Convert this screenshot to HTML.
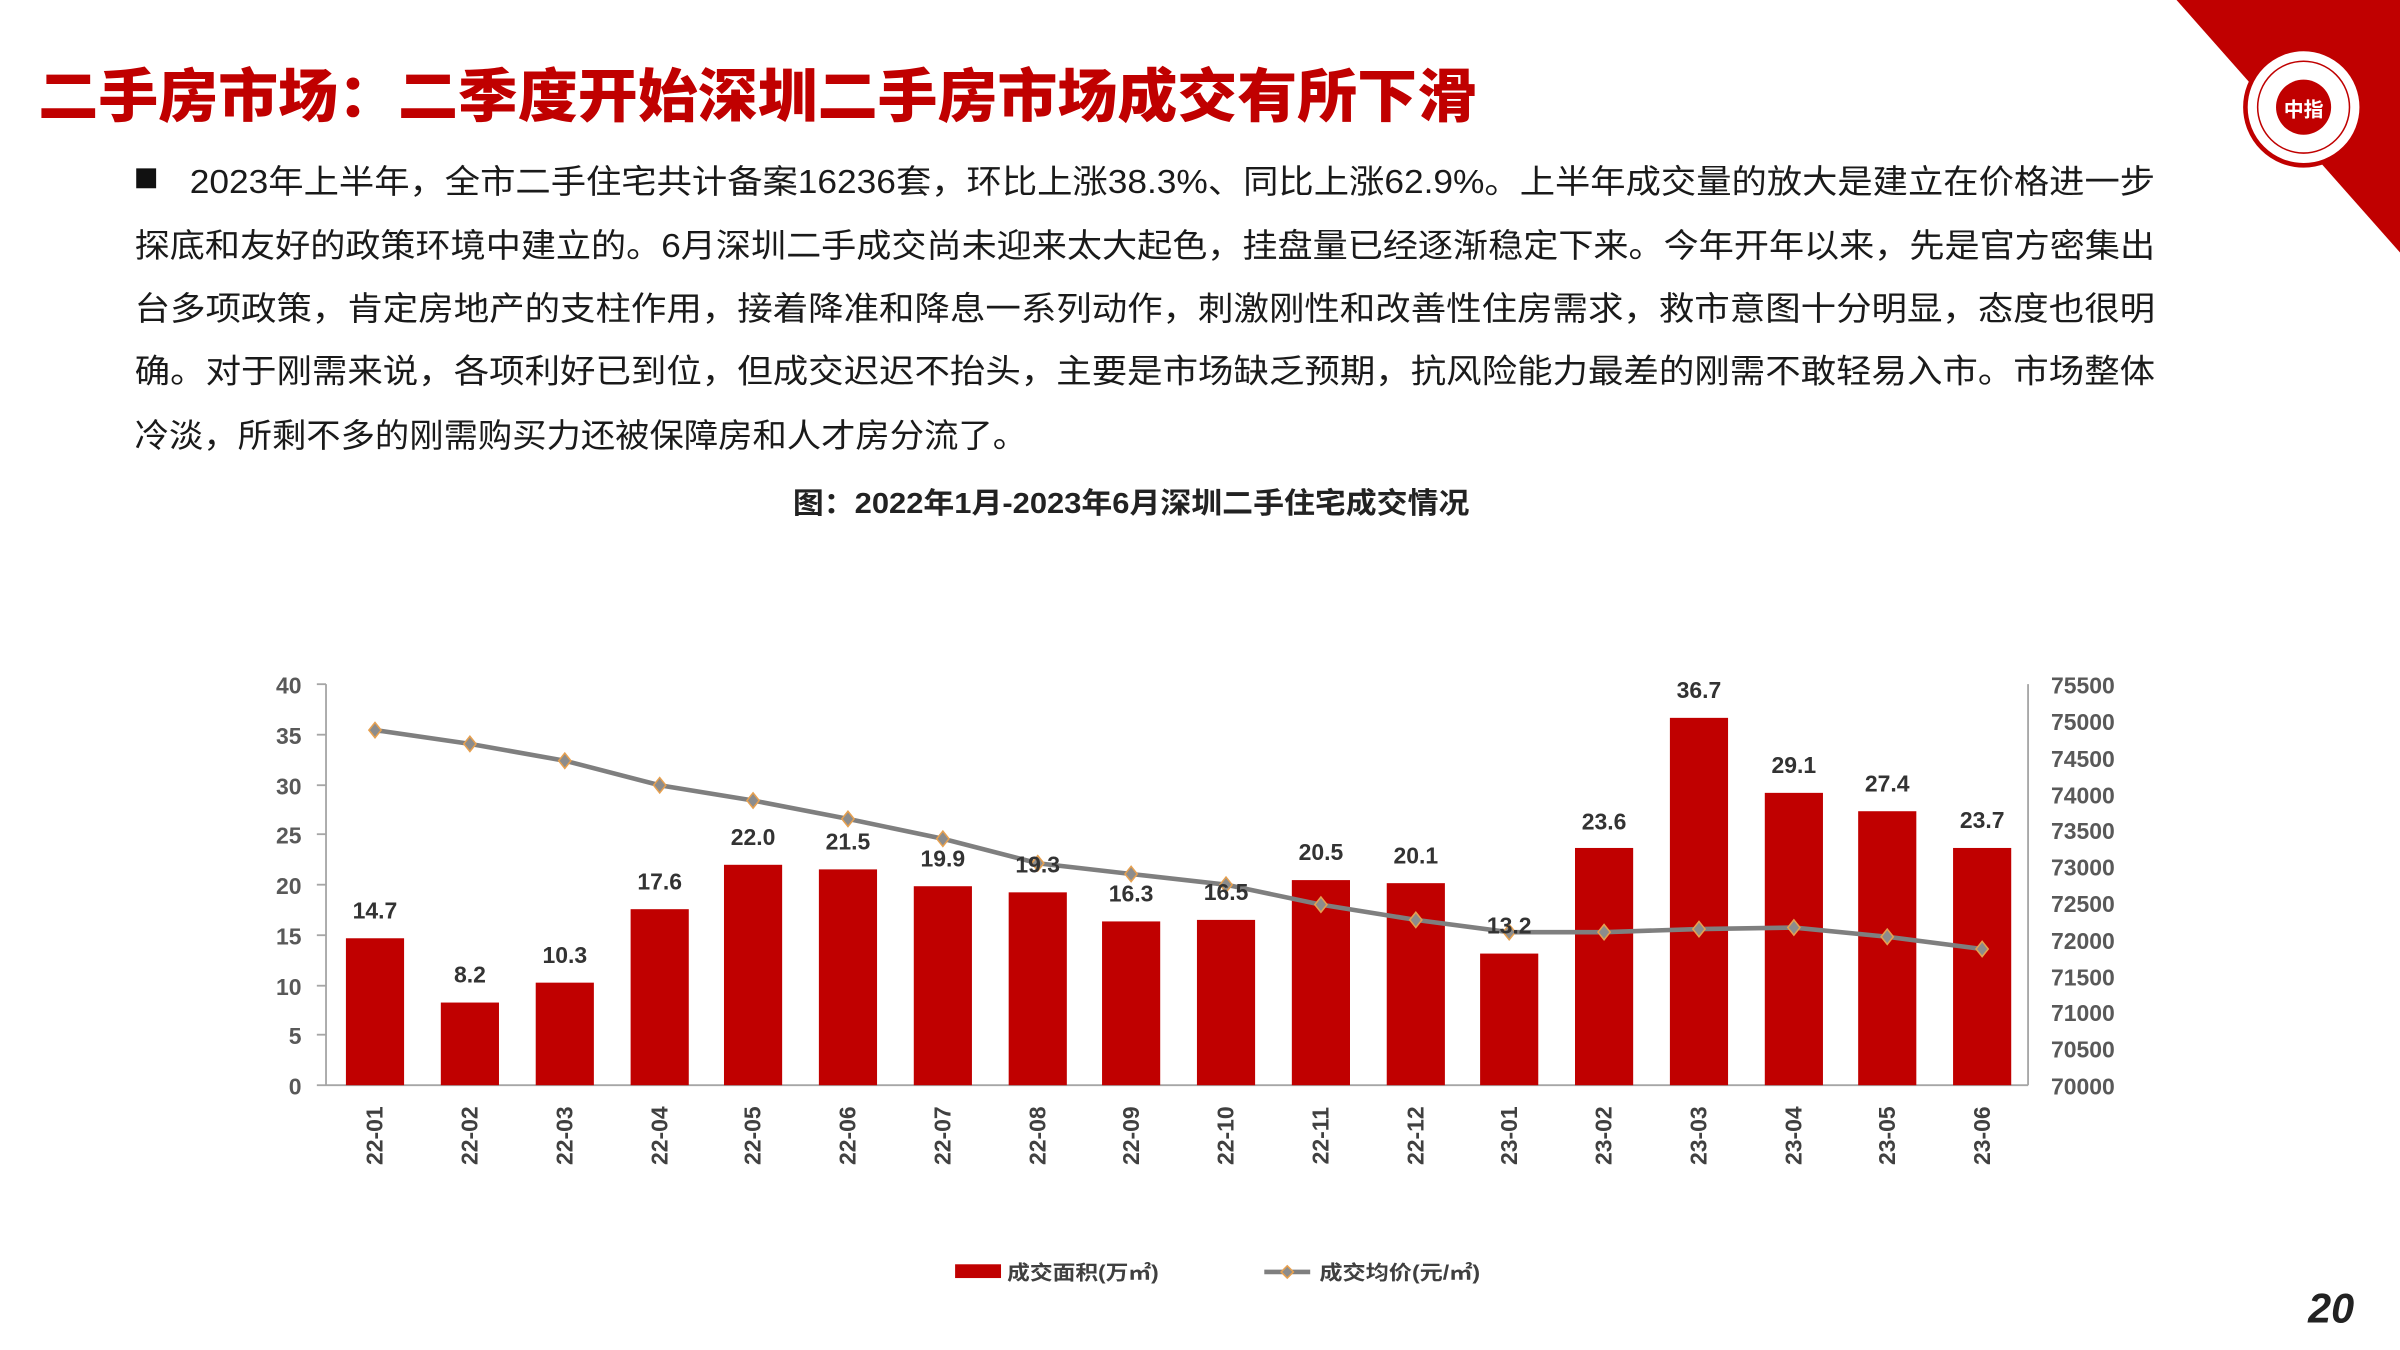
<!DOCTYPE html>
<html><head><meta charset="utf-8"><style>
html,body{margin:0;padding:0;background:#fff;}
svg{display:block;}
text{font-family:"Liberation Sans","Noto Sans CJK SC",sans-serif;}
</style></head><body>
<svg width="2400" height="1350" viewBox="0 0 1568 882" xmlns="http://www.w3.org/2000/svg">
<rect width="1568" height="882" fill="#fff"/>
<polygon points="1422,0 1568,0 1568,165" fill="#c00000"/>
<circle cx="1505" cy="70" r="38" fill="#fff" stroke="#c00000" stroke-width="3"/>
<circle cx="1505" cy="70" r="30" fill="none" stroke="#c00000" stroke-width="1"/>
<circle cx="1505" cy="70" r="18" fill="#c00000"/>
<text x="1505" y="76" font-size="13" fill="#fff" text-anchor="middle" font-weight="bold">中指</text>
<text x="25" y="76" font-size="38" font-weight="900" fill="#c00000" textLength="940" lengthAdjust="spacingAndGlyphs">二手房市场：二季度开始深圳二手房市场成交有所下滑</text>
<g font-size="21.5" fill="#1a1a1a">
<rect x="89" y="110" width="13" height="13" fill="#111"/>
<text x="124" y="126" textLength="1284" lengthAdjust="spacingAndGlyphs">2023年上半年，全市二手住宅共计备案16236套，环比上涨38.3%、同比上涨62.9%。上半年成交量的放大是建立在价格进一步</text>
<text x="88" y="168" textLength="1320" lengthAdjust="spacingAndGlyphs">探底和友好的政策环境中建立的。6月深圳二手成交尚未迎来太大起色，挂盘量已经逐渐稳定下来。今年开年以来，先是官方密集出</text>
<text x="88" y="209" textLength="1320" lengthAdjust="spacingAndGlyphs">台多项政策，肯定房地产的支柱作用，接着降准和降息一系列动作，刺激刚性和改善性住房需求，救市意图十分明显，态度也很明</text>
<text x="88" y="250" textLength="1320" lengthAdjust="spacingAndGlyphs">确。对于刚需来说，各项利好已到位，但成交迟迟不抬头，主要是市场缺乏预期，抗风险能力最差的刚需不敢轻易入市。市场整体</text>
<text x="88" y="292" textLength="583" lengthAdjust="spacingAndGlyphs">冷淡，所剩不多的刚需购买力还被保障房和人才房分流了。</text>
</g>
<text x="518" y="335" font-size="19" font-weight="bold" fill="#222" textLength="442" lengthAdjust="spacingAndGlyphs">图：2022年1月-2023年6月深圳二手住宅成交情况</text>
<g stroke="#a6a6a6" stroke-width="1.2">
<line x1="213" y1="447" x2="213" y2="709"/><line x1="213" y1="709" x2="1325" y2="709"/><line x1="1325" y1="447" x2="1325" y2="709"/>
<line x1="207" y1="447" x2="213" y2="447"/><line x1="207" y1="480" x2="213" y2="480"/><line x1="207" y1="513" x2="213" y2="513"/><line x1="207" y1="545" x2="213" y2="545"/><line x1="207" y1="578" x2="213" y2="578"/><line x1="207" y1="611" x2="213" y2="611"/><line x1="207" y1="644" x2="213" y2="644"/><line x1="207" y1="676" x2="213" y2="676"/><line x1="207" y1="709" x2="213" y2="709"/>
</g>
<g font-size="15" font-weight="bold" fill="#595959" text-anchor="end">
<text x="197" y="453">40</text><text x="197" y="486">35</text><text x="197" y="519">30</text><text x="197" y="551">25</text><text x="197" y="584">20</text><text x="197" y="617">15</text><text x="197" y="650">10</text><text x="197" y="682">5</text><text x="197" y="715">0</text>
</g>
<g font-size="15" font-weight="bold" fill="#595959">
<text x="1340" y="453">75500</text><text x="1340" y="477">75000</text><text x="1340" y="501">74500</text><text x="1340" y="525">74000</text><text x="1340" y="548">73500</text><text x="1340" y="572">73000</text><text x="1340" y="596">72500</text><text x="1340" y="620">72000</text><text x="1340" y="644">71500</text><text x="1340" y="667">71000</text><text x="1340" y="691">70500</text><text x="1340" y="715">70000</text>
</g>
<g fill="#c00000">
<rect x="226" y="613" width="38" height="96"/><rect x="288" y="655" width="38" height="54"/><rect x="350" y="642" width="38" height="67"/><rect x="412" y="594" width="38" height="115"/><rect x="473" y="565" width="38" height="144"/><rect x="535" y="568" width="38" height="141"/><rect x="597" y="579" width="38" height="130"/><rect x="659" y="583" width="38" height="126"/><rect x="720" y="602" width="38" height="107"/><rect x="782" y="601" width="38" height="108"/><rect x="844" y="575" width="38" height="134"/><rect x="906" y="577" width="38" height="132"/><rect x="967" y="623" width="38" height="86"/><rect x="1029" y="554" width="38" height="155"/><rect x="1091" y="469" width="38" height="240"/><rect x="1153" y="518" width="38" height="191"/><rect x="1214" y="530" width="38" height="179"/><rect x="1276" y="554" width="38" height="155"/>
</g>
<polyline points="245,477 307,486 369,497 431,513 492,523 554,535 616,548 678,564 739,571 801,578 863,591 925,601 986,609 1048,609 1110,607 1172,606 1233,612 1295,620" fill="none" stroke="#7f7f7f" stroke-width="3"/>
<g fill="#8c8c8c" stroke="#e6a050" stroke-width="1">
<polygon points="245,472 249,477 245,482 241,477"/><polygon points="307,481 311,486 307,491 303,486"/><polygon points="369,492 373,497 369,502 365,497"/><polygon points="431,508 435,513 431,518 427,513"/><polygon points="492,518 496,523 492,528 488,523"/><polygon points="554,530 558,535 554,540 550,535"/><polygon points="616,543 620,548 616,553 612,548"/><polygon points="678,559 682,564 678,569 674,564"/><polygon points="739,566 743,571 739,576 735,571"/><polygon points="801,573 805,578 801,583 797,578"/><polygon points="863,586 867,591 863,596 859,591"/><polygon points="925,596 929,601 925,606 921,601"/><polygon points="986,604 990,609 986,614 982,609"/><polygon points="1048,604 1052,609 1048,614 1044,609"/><polygon points="1110,602 1114,607 1110,612 1106,607"/><polygon points="1172,601 1176,606 1172,611 1168,606"/><polygon points="1233,607 1237,612 1233,617 1229,612"/><polygon points="1295,615 1299,620 1295,625 1291,620"/>
</g>
<g font-size="15" font-weight="bold" fill="#333" text-anchor="middle">
<text x="245" y="600">14.7</text><text x="307" y="642">8.2</text><text x="369" y="629">10.3</text><text x="431" y="581">17.6</text><text x="492" y="552">22.0</text><text x="554" y="555">21.5</text><text x="616" y="566">19.9</text><text x="678" y="570">19.3</text><text x="739" y="589">16.3</text><text x="801" y="588">16.5</text><text x="863" y="562">20.5</text><text x="925" y="564">20.1</text><text x="986" y="610">13.2</text><text x="1048" y="542">23.6</text><text x="1110" y="456">36.7</text><text x="1172" y="505">29.1</text><text x="1233" y="517">27.4</text><text x="1295" y="541">23.7</text>
</g>
<g font-size="15" font-weight="bold" fill="#404040" text-anchor="middle">
<text transform="translate(250,742) rotate(-90)">22-01</text><text transform="translate(312,742) rotate(-90)">22-02</text><text transform="translate(374,742) rotate(-90)">22-03</text><text transform="translate(436,742) rotate(-90)">22-04</text><text transform="translate(497,742) rotate(-90)">22-05</text><text transform="translate(559,742) rotate(-90)">22-06</text><text transform="translate(621,742) rotate(-90)">22-07</text><text transform="translate(683,742) rotate(-90)">22-08</text><text transform="translate(744,742) rotate(-90)">22-09</text><text transform="translate(806,742) rotate(-90)">22-10</text><text transform="translate(868,742) rotate(-90)">22-11</text><text transform="translate(930,742) rotate(-90)">22-12</text><text transform="translate(991,742) rotate(-90)">23-01</text><text transform="translate(1053,742) rotate(-90)">23-02</text><text transform="translate(1115,742) rotate(-90)">23-03</text><text transform="translate(1177,742) rotate(-90)">23-04</text><text transform="translate(1238,742) rotate(-90)">23-05</text><text transform="translate(1300,742) rotate(-90)">23-06</text>
</g>
<rect x="624" y="826" width="30" height="9" fill="#c00000"/>
<text x="658" y="836" font-size="13" font-weight="bold" fill="#404040" textLength="99" lengthAdjust="spacingAndGlyphs">成交面积(万㎡)</text>
<line x1="826" y1="831" x2="856" y2="831" stroke="#7f7f7f" stroke-width="3"/>
<polygon points="841,827 845,831 841,835 837,831" fill="#8c8c8c" stroke="#e6a050"/>
<text x="862" y="836" font-size="13" font-weight="bold" fill="#404040" textLength="105" lengthAdjust="spacingAndGlyphs">成交均价(元/㎡)</text>
<text x="1538" y="864" font-size="27" font-weight="bold" font-style="italic" fill="#222" text-anchor="end">20</text>
</svg>
</body></html>
